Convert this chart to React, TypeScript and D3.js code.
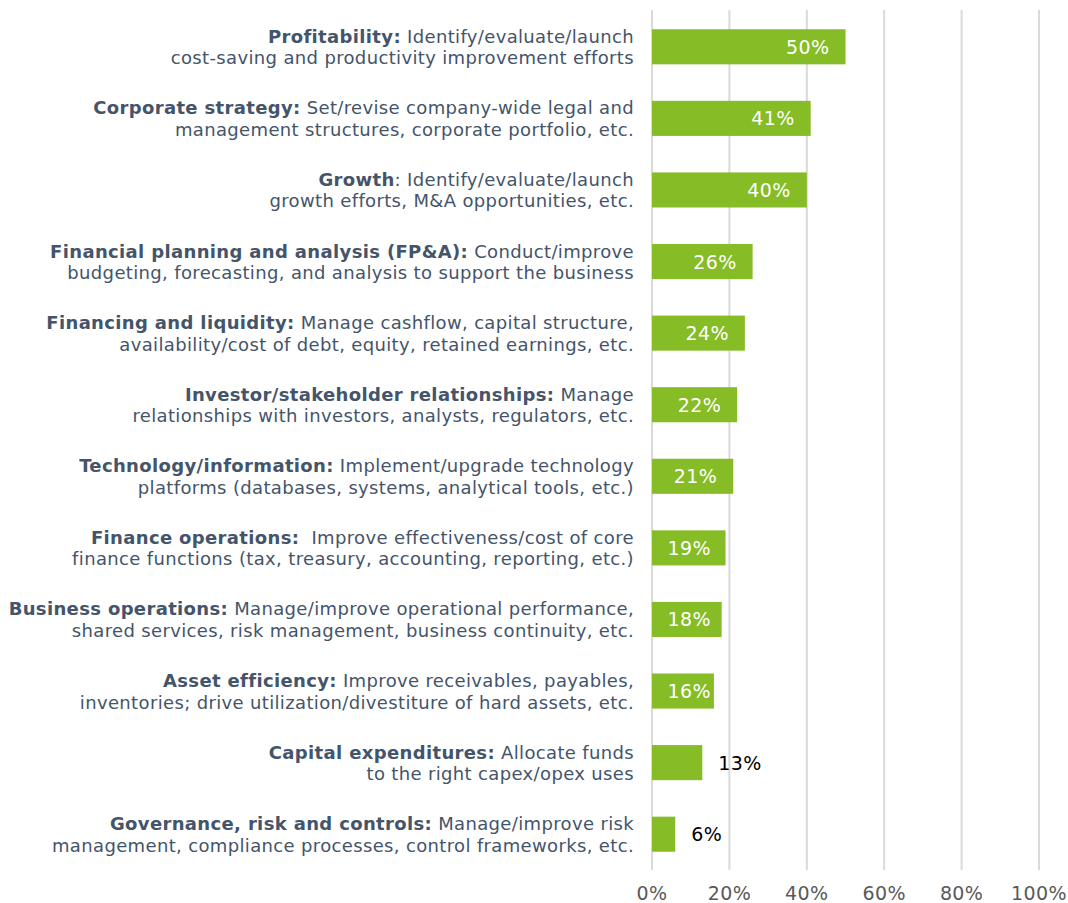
import React, { useRef, useEffect } from "react";
import * as d3 from "d3";

const boldParts = [
  "Profitability:",
  "Corporate strategy:",
  "Growth",
  "Financial planning and analysis (FP&A):",
  "Financing and liquidity:",
  "Investor/stakeholder relationships:",
  "Technology/information:",
  "Finance operations:",
  "Business operations:",
  "Asset efficiency:",
  "Capital expenditures:",
  "Governance, risk and controls:",
];

const firstLineRest = [
  " Identify/evaluate/launch",
  " Set/revise company-wide legal and",
  ": Identify/evaluate/launch",
  " Conduct/improve",
  " Manage cashflow, capital structure,",
  " Manage",
  " Implement/upgrade technology",
  "  Improve effectiveness/cost of core",
  " Manage/improve operational performance,",
  " Improve receivables, payables,",
  " Allocate funds",
  " Manage/improve risk",
];

const secondLines = [
  "cost-saving and productivity improvement efforts",
  "management structures, corporate portfolio, etc.",
  "growth efforts, M&A opportunities, etc.",
  "budgeting, forecasting, and analysis to support the business",
  "availability/cost of debt, equity, retained earnings, etc.",
  "relationships with investors, analysts, regulators, etc.",
  "platforms (databases, systems, analytical tools, etc.)",
  "finance functions (tax, treasury, accounting, reporting, etc.)",
  "shared services, risk management, business continuity, etc.",
  "inventories; drive utilization/divestiture of hard assets, etc.",
  "to the right capex/opex uses",
  "management, compliance processes, control frameworks, etc.",
];

const values = [50, 41, 40, 26, 24, 22, 21, 19, 18, 16, 13, 6];
const xTicks = [0, 20, 40, 60, 80, 100];

const WIDTH = 1068;
const HEIGHT = 903;

const App = () => {
  const svgRef = useRef<SVGSVGElement>(null);

  useEffect(() => {
    const svg = d3.select(svgRef.current);
    svg.selectAll("*").remove();

    const font = "Verdana, 'DejaVu Sans', sans-serif";
    const x = d3.scaleLinear().domain([0, 100]).range([652, 1039]);
    const idx = values.map((_, i) => i);
    const y = d3.scaleBand<number>()
      .domain(idx)
      .range([11, 870])
      .paddingInner(0.51)
      .paddingOuter(0.255);

    // gridlines
    svg.append("g")
      .selectAll("line")
      .data(xTicks)
      .enter()
      .append("line")
      .attr("x1", d => x(d))
      .attr("x2", d => x(d))
      .attr("y1", 10)
      .attr("y2", 870)
      .attr("stroke", "#d9d9d9")
      .attr("stroke-width", 2);

    // tick labels
    svg.append("g")
      .selectAll("text")
      .data(xTicks)
      .enter()
      .append("text")
      .attr("x", d => x(d))
      .attr("y", 893)
      .attr("text-anchor", "middle")
      .attr("dominant-baseline", "central")
      .attr("font-family", font)
      .attr("font-size", 19)
      .attr("letter-spacing", 0.4)
      .attr("fill", "#595959")
      .text(d => `${d}%`);

    // bars
    svg.append("g")
      .selectAll("rect")
      .data(values)
      .enter()
      .append("rect")
      .attr("x", x(0))
      .attr("y", (_, i) => y(i)!)
      .attr("width", d => x(d) - x(0))
      .attr("height", y.bandwidth())
      .attr("fill", "#86bc25");

    // value labels: inside end (white), outside for short bars (black)
    const textW = 43;
    const outside = (d: number) => x(d) - x(0) < 55;
    svg.append("g")
      .selectAll("text")
      .data(values)
      .enter()
      .append("text")
      .attr("x", d => {
        const end = x(d);
        if (outside(d)) return end + 16;
        return Math.max(end - 16, x(0) + 16 + textW);
      })
      .attr("text-anchor", d => (outside(d) ? "start" : "end"))
      .attr("y", (_, i) => y(i)! + y.bandwidth() / 2)
      .attr("dominant-baseline", "central")
      .attr("font-family", font)
      .attr("font-size", 19)
      .attr("letter-spacing", 0.4)
      .attr("fill", d => (outside(d) ? "#000000" : "#ffffff"))
      .text(d => `${d}%`);

    // category labels
    const labels = svg.append("g")
      .attr("font-family", font)
      .attr("font-size", 18)
      .attr("letter-spacing", 0.35)
      .attr("fill", "#44546a");

    idx.forEach(i => {
      const cy = y(i)! + y.bandwidth() / 2;
      const t1 = labels.append("text")
        .attr("xml:space", "preserve")
        .style("white-space", "pre")
        .attr("x", 634)
        .attr("y", cy - 11)
        .attr("text-anchor", "end")
        .attr("dominant-baseline", "central");
      t1.append("tspan").attr("font-weight", "bold").text(boldParts[i]);
      t1.append("tspan").text(firstLineRest[i]);
      labels.append("text")
        .attr("x", 634)
        .attr("y", cy + 11)
        .attr("text-anchor", "end")
        .attr("dominant-baseline", "central")
        .text(secondLines[i]);
    });
  }, []);

  return (
    <svg
      ref={svgRef}
      width={WIDTH}
      height={HEIGHT}
      style={{ position: "absolute", left: 0, top: 0, display: "block", background: "#fff" }}
    />
  );
};

export default App;
